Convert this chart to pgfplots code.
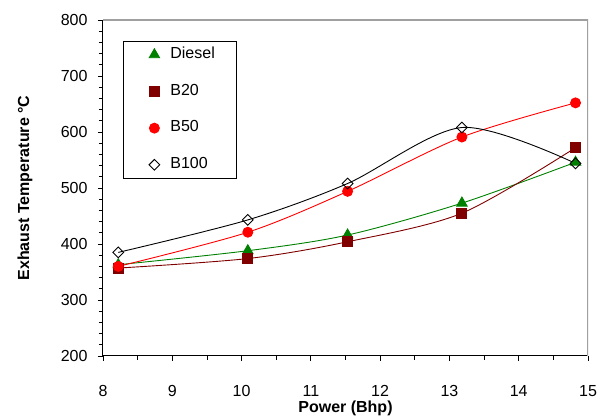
\documentclass[border=0pt]{standalone}
\usepackage{fontspec}
\setmainfont{Liberation Sans}
\usepackage{pgfplots}
\pgfplotsset{compat=1.18}
\definecolor{dgreen}{RGB}{0,128,0}
\definecolor{dred}{RGB}{128,0,0}
\definecolor{bred}{RGB}{255,0,0}
\definecolor{frame}{RGB}{160,160,160}
\begin{document}
\begin{tikzpicture}
\useasboundingbox (-103pt,-63pt) rectangle (506pt,356pt);
\begin{axis}[at={(0,0)}, anchor=south west, scale only axis,
  width=485pt, height=336pt,
  xmin=8, xmax=15, ymin=200, ymax=800,
  xtick={8,...,15}, ytick={200,300,...,800},
  minor x tick num=1, minor y tick num=4,
  axis x line*=bottom, axis y line*=left,
  axis line style={black, line width=1pt, -},
  tick align=outside, major tick length=5pt, minor tick length=4pt,
  tick style={black, line width=0.8pt},
  font=\fontsize{16}{19}\selectfont,
  tick label style={font=\fontsize{16}{19}\selectfont},
  xticklabel style={inner sep=2pt, yshift=-22.3pt},
  yticklabel style={xshift=-7pt},
  /pgf/number format/assume math mode=true,
  xlabel={\bfseries Power (Bhp)},
  ylabel={\bfseries Exhaust Temperature °C},
  xlabel style={at={(axis description cs:0.5,0)}, anchor=center, inner sep=1pt, yshift=-52pt},
  ylabel style={at={(axis description cs:0,0.5)}, anchor=center, yshift=78pt},
  legend image code/.code={\path[draw=none, fill=none] (0pt,-5pt) rectangle (30pt,5pt); \draw[#1] plot coordinates {(21.3pt,0pt)};},
  legend cell align=left,
  legend style={at={(rel axis cs:0.0406,0.9384)}, anchor=north west, draw=black, line width=0.8pt,
    inner xsep=10pt, inner ysep=4.4pt, row sep=18.2pt, column sep=5.3pt,
    nodes={inner sep=2pt, text height=11pt, text depth=3.5pt, font=\fontsize{16}{19}\selectfont}},
]
\addplot[dgreen, line width=0.9pt, smooth, mark=triangle*, mark size=6pt, mark options={solid}]
  coordinates {(8.22,363) (10.09,388) (11.53,416) (13.18,473) (14.82,546)};
\addlegendentry{\makebox[54pt][l]{Diesel}}
\addplot[dred, line width=0.9pt, smooth, mark=square*, mark size=5pt, mark options={solid}]
  coordinates {(8.22,357) (10.09,374) (11.53,404) (13.18,455) (14.82,572)};
\addlegendentry{\makebox[54pt][l]{B20}}
\addplot[bred, line width=0.9pt, smooth, mark=*, mark size=5pt, mark options={solid}]
  coordinates {(8.22,360) (10.09,421) (11.53,494) (13.18,591) (14.82,652)};
\addlegendentry{\makebox[54pt][l]{B50}}
\addplot[black, line width=0.9pt, smooth, mark=square, mark size=3.8pt, mark options={solid, rotate=45, line width=0.9pt}]
  coordinates {(8.22,385) (10.09,443) (11.53,508) (13.18,608) (14.82,544)};
\addlegendentry{\makebox[54pt][l]{B100}}
\draw[frame, line width=1.3pt] (rel axis cs:0,1) -- (rel axis cs:1,1) -- (rel axis cs:1,0);
\end{axis}
\end{tikzpicture}
\end{document}
